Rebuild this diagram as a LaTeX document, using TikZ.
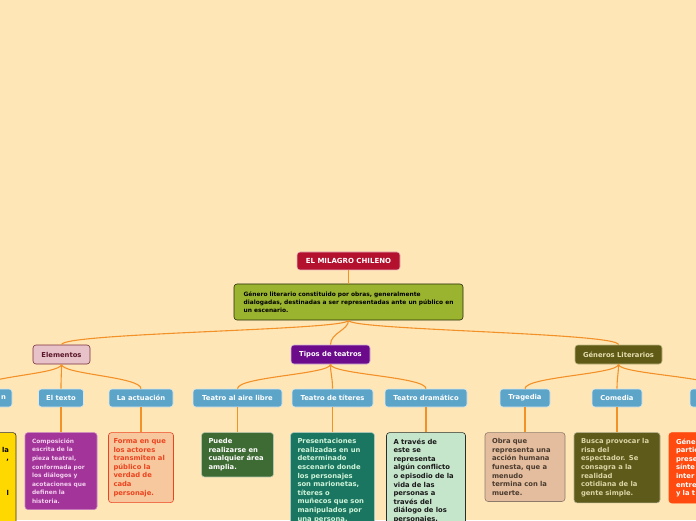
\documentclass[tikz,border=0pt]{standalone}
\usepackage{fontspec}
\setmainfont{DejaVu Sans}
\usetikzlibrary{positioning}

\definecolor{bgpeach}{HTML}{FFE6B6}
\definecolor{linkorange}{HTML}{F39129}
\definecolor{rootred}{HTML}{B3112E}
\definecolor{descgreen}{HTML}{9BB42F}
\definecolor{elempink}{HTML}{E7C3C9}
\definecolor{elemline}{HTML}{7A2E3E}
\definecolor{elemtext}{HTML}{5A1529}
\definecolor{tipospurple}{HTML}{6B0A8B}
\definecolor{genolive}{HTML}{5F5A15}
\definecolor{gentext}{HTML}{E6DEB0}
\definecolor{subblue}{HTML}{5DA5C8}
\definecolor{textopurple}{HTML}{A2349A}
\definecolor{textopink}{HTML}{F3CFEE}
\definecolor{actfill}{HTML}{F7C89D}
\definecolor{actred}{HTML}{EC4420}
\definecolor{airegreen}{HTML}{3E6B34}
\definecolor{titeal}{HTML}{1B7661}
\definecolor{titetext}{HTML}{CFF4DA}
\definecolor{dramfill}{HTML}{C6E6CC}
\definecolor{tragfill}{HTML}{E3BD9E}
\definecolor{tragline}{HTML}{8E7B6B}
\definecolor{tragtext}{HTML}{4B3B2F}
\definecolor{comolive}{HTML}{5D5A1A}
\definecolor{comtext}{HTML}{DCD5A6}
\definecolor{redorange}{HTML}{FF4B0F}
\definecolor{gold}{HTML}{FFD800}

\begin{document}
\begin{tikzpicture}[x=1pt,y=1pt,
    lab/.style={rounded corners=3pt,inner sep=0pt,minimum height=18pt,line width=0.6pt,
                font=\fontsize{6.8}{8}\selectfont\bfseries},
    sub/.style={lab,fill=subblue,draw=white!75!subblue,text=white},
    leaf/.style={rounded corners=3pt,inner xsep=7pt,inner ysep=6pt,align=left,line width=0.6pt,
                 font=\fontsize{6.8}{8.6}\selectfont\bfseries},
    link/.style={draw=linkorange,line width=1.1pt},
  ]

\useasboundingbox[fill=bgpeach] (0,0) rectangle (696,520);
\clip (0,0) rectangle (696,520);

% top of the map
\node[lab,fill=rootred,draw=white!70!rootred,text=white,minimum width=103pt,
      font=\fontsize{7}{8}\selectfont\bfseries] (root) at (348.5,259) {EL MILAGRO CHILENO};
\node[lab,fill=descgreen,draw=black!75!descgreen,text=black,align=left,minimum width=229pt,
      minimum height=36pt,font=\fontsize{5.9}{8.3}\selectfont\bfseries] (desc) at (348.5,218)
  {Género literario constituido por obras, generalmente\\
   dialogadas, destinadas a ser representadas ante un público en\\
   un escenario.};

% main branches
\node[lab,fill=elempink,draw=elemline,text=elemtext,minimum width=57pt,minimum height=19pt] (elem) at (61.5,165.5) {Elementos};
\node[lab,fill=tipospurple,draw=white!70!tipospurple,text=white,minimum width=79pt,minimum height=19pt] (tipos) at (330.5,165.5) {Tipos de teatros};
\node[lab,fill=genolive,draw=gentext!70!genolive,text=gentext,minimum width=87pt,minimum height=19pt] (gen) at (618.5,165.5) {Géneros Literarios};

% second level
\node[sub,minimum width=68pt,text width=56pt,align=right] (cutl) at (-22,122) {n};
\node[sub,minimum width=45pt] (texto) at (61,122) {El texto};
\node[sub,minimum width=64pt] (actuacion) at (141,122) {La actuación};
\node[sub,minimum width=89pt] (aire) at (237.5,122) {Teatro al aire libre};
\node[sub,minimum width=81pt] (titeres) at (332.5,122) {Teatro de títeres};
\node[sub,minimum width=82pt] (dramatico) at (426,122) {Teatro dramático};
\node[sub,minimum width=50pt] (tragedia) at (525,122) {Tragedia};
\node[sub,minimum width=50pt] (comedia) at (617,122) {Comedia};
\node[sub,minimum width=60pt] (cutr) at (720,122) {};

% leaves
\node[leaf,below=25pt of cutl,fill=gold,draw=black!80,text=black,text width=62pt,align=right] (cutl-d)
  {\vphantom{Ag}\\ la\\ ,\\ \mbox{}\\ \mbox{}\\ \mbox{}\\ l\\ \mbox{}\\ \mbox{}\\ \mbox{}};
\node[leaf,below=25pt of texto,fill=textopurple,draw=textopink!50!textopurple,text=textopink,
      text width=58pt,font=\fontsize{5.9}{8.6}\selectfont\bfseries] (texto-d)
  {Composición\\ escrita de la\\ pieza teatral,\\ conformada por\\ los diálogos y\\ acotaciones que\\ definen la\\ historia.};
\node[leaf,below=25pt of actuacion,fill=actfill,draw=actred,text=actred,text width=55pt,inner xsep=5pt] (actuacion-d)
  {Forma en que\\ los actores\\ transmiten al\\ público la\\ verdad de\\ cada\\ personaje.};
\node[leaf,below=25pt of aire,fill=airegreen,draw=white!60!airegreen,text=white,text width=58pt] (aire-d)
  {Puede\\ realizarse en\\ cualquier área\\ amplia.};
\node[leaf,below=25pt of titeres,fill=titeal,draw=white!60!titeal,text=titetext,text width=70pt] (titeres-d)
  {Presentaciones\\ realizadas en un\\ determinado\\ escenario donde\\ los personajes\\ son marionetas,\\ títeres o\\ muñecos que son\\ manipulados por\\ una persona.};
\node[leaf,below=25pt of dramatico,fill=dramfill,draw=black!80!dramfill,text=black!90,text width=65pt] (dramatico-d)
  {A través de\\ este se\\ representa\\ algún conflicto\\ o episodio de la\\ vida de las\\ personas a\\ través del\\ diálogo de los\\ personajes.};
\node[leaf,below=25pt of tragedia,fill=tragfill,draw=tragline,text=tragtext,text width=66pt] (tragedia-d)
  {Obra que\\ representa una\\ acción humana\\ funesta, que a\\ menudo\\ termina con la\\ muerte.};
\node[leaf,below=25pt of comedia,fill=comolive,draw=white!50!comolive,text=comtext,text width=72pt] (comedia-d)
  {Busca provocar la\\ risa del\\ espectador. Se\\ consagra a la\\ realidad\\ cotidiana de la\\ gente simple.};
\node[leaf,below=25pt of cutr,fill=redorange,draw=redorange,text=white,text width=88pt] (cutr-d)
  {Géne\\ partic\\ prese\\ sínte\\ inter\\ entre\\ y la t};

% connectors
\draw[link] (root) -- (desc);
\foreach \b in {elem,tipos,gen}
  \draw[link] (desc.south) .. controls +(0,-10) and +(0,12) .. (\b.north);
\foreach \p/\c in {elem/cutl,elem/texto,elem/actuacion,tipos/aire,tipos/titeres,tipos/dramatico,
                   gen/tragedia,gen/comedia,gen/cutr}
  \draw[link] (\p.south) .. controls +(0,-10) and +(0,12) .. (\c.north);
\foreach \b in {cutl,texto,actuacion,aire,titeres,dramatico,tragedia,comedia,cutr}
  \draw[link] (\b.south) -- (\b-d.north);
\end{tikzpicture}
\end{document}
